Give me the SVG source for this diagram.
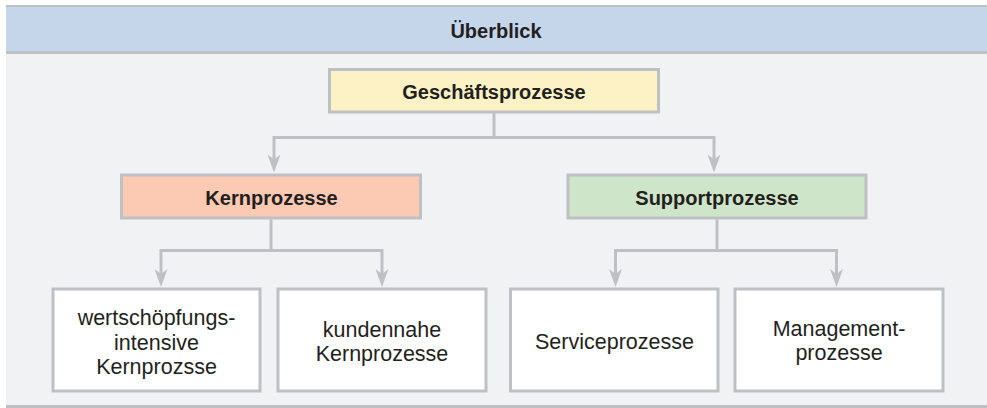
<svg xmlns="http://www.w3.org/2000/svg" width="987" height="408" viewBox="0 0 987 408">
<style>
.bg{fill:#f1f2f4}
.hdr{fill:#c5d5ea}
.rule{fill:#bfc0c3}
.box{stroke:#bfc0c3;stroke-width:3}
.conn{fill:none;stroke:#bfc0c3;stroke-width:3}
.b{font-family:"Liberation Sans",Arial,sans-serif;font-weight:bold;font-size:20px;fill:#231f20;text-anchor:middle}
.r{font-family:"Liberation Sans",Arial,sans-serif;font-size:21.5px;fill:#231f20;text-anchor:middle}
</style>
<defs>
<marker id="arr" markerUnits="userSpaceOnUse" markerWidth="18" markerHeight="13" viewBox="0 0 18 13" refX="12" refY="6.5" orient="auto">
<path d="M0,0 L18,6.5 L0,13 L5,6.5 z" fill="#bfc0c3"/>
</marker>
</defs>
<rect x="0" y="0" width="987" height="408" fill="#ffffff"/>
<rect class="bg" x="6" y="53" width="981" height="353"/>
<rect class="hdr" x="6" y="6" width="981" height="46"/>
<rect class="rule" x="6" y="5" width="981" height="2"/>
<rect class="rule" x="6" y="51" width="981" height="3"/>
<rect class="rule" x="6" y="405" width="981" height="3"/>
<g id="header">
<text class="b" x="496" y="38">Überblick</text>
</g>
<g id="connectors">
<path class="conn" d="M494,113 V137.5"/>
<path class="conn" d="M494,137.5 H274 V166.5" marker-end="url(#arr)"/>
<path class="conn" d="M494,137.5 H714 V166.5" marker-end="url(#arr)"/>
<path class="conn" d="M271,219.5 V250.5"/>
<path class="conn" d="M271,250.5 H161 V281" marker-end="url(#arr)"/>
<path class="conn" d="M271,250.5 H382 V281" marker-end="url(#arr)"/>
<path class="conn" d="M717,219.5 V250.5"/>
<path class="conn" d="M717,250.5 H615.5 V281" marker-end="url(#arr)"/>
<path class="conn" d="M717,250.5 H836.5 V281" marker-end="url(#arr)"/>
</g>
<g id="geschaeftsprozesse">
<rect class="box" x="329.5" y="69.5" width="329" height="42.5" fill="#fdf2c6"/>
<text class="b" x="494" y="99">Geschäftsprozesse</text>
</g>
<g id="kernprozesse">
<rect class="box" x="121.5" y="175" width="299" height="43" fill="#fcc9b3"/>
<text class="b" x="271.5" y="205">Kernprozesse</text>
</g>
<g id="supportprozesse">
<rect class="box" x="568" y="175" width="298" height="43" fill="#cfe5c9"/>
<text class="b" x="717" y="205">Supportprozesse</text>
</g>
<g id="wertschoepfung">
<rect class="box" x="53" y="289" width="207" height="102" fill="#ffffff"/>
<text class="r" x="156.5" y="325">wertschöpfungs-</text>
<text class="r" x="156.5" y="349.5">intensive</text>
<text class="r" x="156.5" y="374">Kernprozsse</text>
</g>
<g id="kundennahe">
<rect class="box" x="278" y="289" width="208" height="102" fill="#ffffff"/>
<text class="r" x="382" y="337">kundennahe</text>
<text class="r" x="382" y="361">Kernprozesse</text>
</g>
<g id="service">
<rect class="box" x="510.5" y="289" width="207.5" height="102" fill="#ffffff"/>
<text class="r" x="614.5" y="348.5">Serviceprozesse</text>
</g>
<g id="management">
<rect class="box" x="735" y="289" width="208" height="102" fill="#ffffff"/>
<text class="r" x="839" y="335.5">Management-</text>
<text class="r" x="839" y="360">prozesse</text>
</g>
</svg>
